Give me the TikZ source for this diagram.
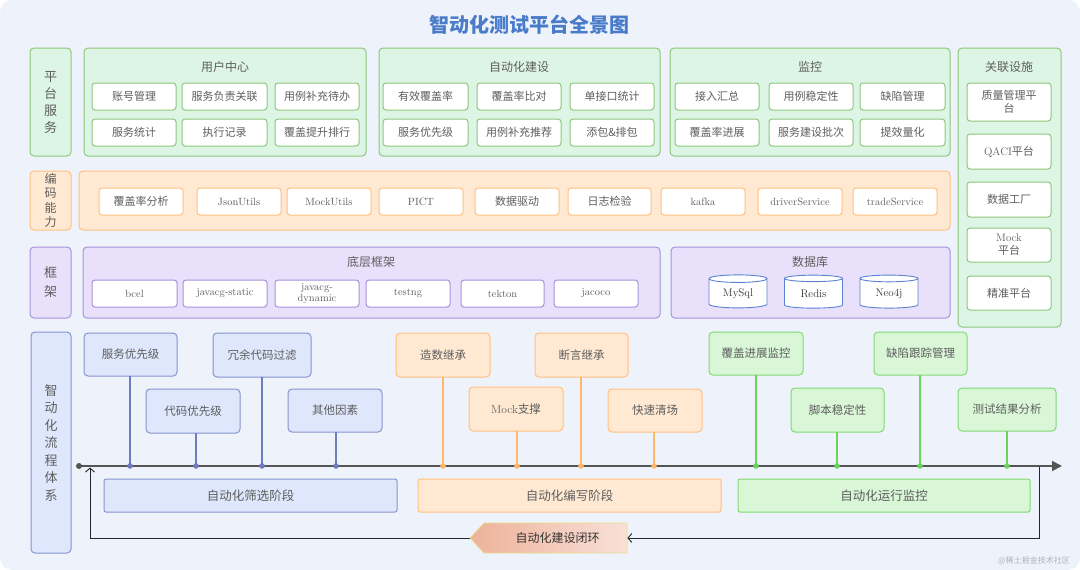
\documentclass[tikz,border=0pt]{standalone}
\usepackage{fontspec}
\newfontfamily\cjk{Noto Sans CJK SC}
\usetikzlibrary{arrows.meta,shapes.geometric,shapes.symbols}
\definecolor{bgc}{HTML}{EEF3FB}
\definecolor{txt}{HTML}{5E5E5E}
\definecolor{ttl}{HTML}{4A7BC9}
\definecolor{grnF}{HTML}{DDF5E4}
\definecolor{grnD}{HTML}{8CC77A}
\definecolor{orgF}{HTML}{FFE9D2}
\definecolor{orgD}{HTML}{FFC080}
\definecolor{purF}{HTML}{E9E1FB}
\definecolor{purD}{HTML}{A793DC}
\definecolor{bluF}{HTML}{DEE7FB}
\definecolor{bluD}{HTML}{8694CF}
\definecolor{bluL}{HTML}{6F7DC0}
\definecolor{bgrF}{HTML}{D9F6D7}
\definecolor{bgrD}{HTML}{80DA72}
\definecolor{bgrL}{HTML}{6BD45C}
\definecolor{borL}{HTML}{FFB865}
\definecolor{cylD}{HTML}{5B82D2}
\definecolor{tline}{HTML}{555555}
\definecolor{closL}{HTML}{EDB29A}
\definecolor{closR}{HTML}{F9E0D8}
\definecolor{closD}{HTML}{E6DE8C}
\newcommand{\mybox}[7]{\node[#2, minimum width={(#5)-(#3)}, minimum height={(#6)-(#4)}] (#1) at ({((#3)+(#5))/2},{((#4)+(#6))/2}) {#7};}
\tikzset{
  base/.style={inner sep=0pt, outer sep=0pt, rounded corners=4pt, line width=1pt, text=txt, align=center, font=\cjk\fontsize{11}{13}\selectfont},
  lblG/.style={base, draw=grnD, fill=grnF, font=\cjk\fontsize{13}{17}\selectfont},
  lblO/.style={base, draw=orgD, fill=orgF, font=\cjk\fontsize{12}{14.5}\selectfont},
  lblP/.style={base, draw=purD, fill=purF, font=\cjk\fontsize{13}{19}\selectfont},
  lblB/.style={base, draw=bluD, fill=bluF, font=\cjk\fontsize{13}{17.5}\selectfont},
  grpG/.style={base, draw=grnD, fill=grnF},
  grpO/.style={base, draw=orgD, fill=orgF},
  grpP/.style={base, draw=purD, fill=purF},
  gtitle/.style={inner sep=0pt, text=txt, font=\cjk\fontsize{12}{14}\selectfont},
  inG/.style={base, draw=grnD, fill=white, rounded corners=3pt},
  inO/.style={base, draw=orgD, fill=white, rounded corners=3pt},
  inP/.style={base, draw=purD, fill=white, rounded corners=3pt},
  lat/.style={font=\rmfamily\fontsize{10.5}{11.5}\selectfont},
  db/.style={cylinder, shape border rotate=90, aspect=0.25, draw=cylD, fill=white, line width=0.9pt, inner sep=0pt, minimum width=58pt, minimum height=33pt, text=black!80, font=\rmfamily\fontsize{11}{13}\selectfont},
  fB/.style={base, draw=bluD, fill=bluF, font=\cjk\fontsize{11.5}{13}\selectfont},
  fO/.style={base, draw=orgD, fill=orgF, font=\cjk\fontsize{11.5}{13}\selectfont},
  fG/.style={base, draw=bgrD, fill=bgrF, font=\cjk\fontsize{11.5}{13}\selectfont},
  phB/.style={fB, rounded corners=2pt, font=\cjk\fontsize{12.5}{14}\selectfont},
  phO/.style={fO, rounded corners=2pt, font=\cjk\fontsize{12.5}{14}\selectfont},
  phG/.style={fG, rounded corners=2pt, font=\cjk\fontsize{12.5}{14}\selectfont},
  stemB/.style={draw=bluL, line width=1.5pt},
  stemO/.style={draw=borL, line width=1.5pt},
  stemG/.style={draw=bgrL, line width=1.5pt},
  timeline/.style={draw=tline, line width=1.8pt, -{Triangle[length=10pt,width=10pt]}},
  loopline/.style={draw=black!85, line width=0.9pt, -{Straight Barb[length=4pt,width=9pt]}},
  closing/.style={signal, signal to=west, signal pointer angle=94, minimum width=157pt, minimum height=30pt, inner sep=0pt, left color=closL, right color=closR, draw=closD, line width=0.7pt, text=black!80, font=\cjk\fontsize{12}{14}\selectfont},
}
\begin{document}
\begin{tikzpicture}[x=1pt,y=-1pt]
\useasboundingbox (0,0) rectangle (1080,570);
\fill[bgc, rounded corners=12pt] (0,0) rectangle (1080,570);
\node[inner sep=0pt, text=ttl, font=\cjk\bfseries\fontsize{20}{24}\selectfont] (title) at (529,25) {智动化测试平台全景图};

% ---------- Row 1: platform services
\mybox{plat}{lblG}{30}{48}{71}{156}{平\\台\\服\\务}
\mybox{uc}{grpG}{84}{48}{366}{156}{}
\node[gtitle] (ucT) at (225,67) {用户中心};
\mybox{uc1}{inG}{92}{83}{176}{110}{账号管理}
\mybox{uc2}{inG}{182}{83}{267}{110}{服务负责关联}
\mybox{uc3}{inG}{275}{83}{359}{110}{用例补充待办}
\mybox{uc4}{inG}{92}{119}{176}{146}{服务统计}
\mybox{uc5}{inG}{182}{119}{267}{146}{执行记录}
\mybox{uc6}{inG}{275}{119}{359}{146}{覆盖提升排行}

\mybox{ab}{grpG}{379}{48}{660}{156}{}
\node[gtitle] (abT) at (519,67) {自动化建设};
\mybox{ab1}{inG}{383}{83}{468}{110}{有效覆盖率}
\mybox{ab2}{inG}{477}{83}{561}{110}{覆盖率比对}
\mybox{ab3}{inG}{570}{83}{654}{110}{单接口统计}
\mybox{ab4}{inG}{383}{119}{468}{146}{服务优先级}
\mybox{ab5}{inG}{477}{119}{561}{146}{用例补充推荐}
\mybox{ab6}{inG}{570}{119}{654}{146}{添包\&排包}

\mybox{mo}{grpG}{670}{48}{950}{156}{}
\node[gtitle] (moT) at (810,67) {监控};
\mybox{mo1}{inG}{675}{83}{759}{110}{接入汇总}
\mybox{mo2}{inG}{769}{83}{853}{110}{用例稳定性}
\mybox{mo3}{inG}{860}{83}{945}{110}{缺陷管理}
\mybox{mo4}{inG}{675}{119}{759}{146}{覆盖率进展}
\mybox{mo5}{inG}{769}{119}{853}{146}{服务建设批次}
\mybox{mo6}{inG}{860}{119}{945}{146}{提效量化}

\mybox{rel}{grpG}{958}{48}{1061}{327}{}
\node[gtitle] (relT) at (1009,67) {关联设施};
\mybox{rel1}{inG}{967}{83}{1051}{121}{质量管理平\\台}
\mybox{rel2}{inG}{967}{134}{1051}{169}{{\rmfamily QACI}平台}
\mybox{rel3}{inG}{967}{182}{1051}{217}{数据工厂}
\mybox{rel4}{inG}{967}{228}{1051}{262}{{\rmfamily Mock}\\平台}
\mybox{rel5}{inG}{967}{276}{1051}{310}{精准平台}

% ---------- Row 2: coding
\mybox{code}{lblO}{30}{171}{71}{230}{编\\码\\能\\力}
\mybox{cg}{grpO}{79}{171}{950}{230}{}
\mybox{cg1}{inO}{99}{188}{183}{215}{覆盖率分析}
\mybox{cg2}{inO,lat}{197}{188}{281}{215}{JsonUtils}
\mybox{cg3}{inO,lat}{287}{188}{371}{215}{MockUtils}
\mybox{cg4}{inO,lat}{379}{188}{463}{215}{PICT}
\mybox{cg5}{inO}{475}{188}{559}{215}{数据驱动}
\mybox{cg6}{inO}{568}{188}{651}{215}{日志检验}
\mybox{cg7}{inO,lat}{661}{188}{745}{215}{kafka}
\mybox{cg8}{inO,lat}{758}{188}{842}{215}{driverService}
\mybox{cg9}{inO,lat}{853}{188}{937}{215}{tradeService}

% ---------- Row 3: framework
\mybox{fw}{lblP}{30}{247}{71}{318}{框\\架}
\mybox{bf}{grpP}{83}{247}{660}{318}{}
\node[gtitle] (bfT) at (371,262) {底层框架};
\mybox{bf1}{inP,lat}{92}{280}{177}{307}{bcel}
\mybox{bf2}{inP,lat}{183}{280}{267}{307}{javacg-static}
\mybox{bf3}{inP,lat}{275}{280}{359}{307}{javacg-\\dynamic}
\mybox{bf4}{inP,lat}{366}{280}{450}{307}{testng}
\mybox{bf5}{inP,lat}{461}{280}{544}{307}{tekton}
\mybox{bf6}{inP,lat}{554}{280}{638}{307}{jacoco}
\mybox{dbg}{grpP}{671}{247}{950}{318}{}
\node[gtitle] (dbT) at (810,262) {数据库};
\node[db] (db1) at (738,293.5) {MySql};
\node[db] (db2) at (813.5,293.5) {Redis};
\node[db] (db3) at (889,293.5) {Neo4j};

% ---------- Bottom: process
\mybox{proc}{lblB}{31}{332}{71}{553}{智\\动\\化\\流\\程\\体\\系}
\coordinate (tl0) at (79,466);
\coordinate (tl1) at (1062,466);
\coordinate (lpA) at (1039,466);
\coordinate (lpD) at (90,467.5);

\node[closing] (clos) at (555.5,538) {\hspace*{4pt}自动化建设闭环};

\draw[loopline] (lpA) |- (clos.east);
\draw[loopline] (clos.west) -| (lpD);
\draw[timeline] (tl0) -- (tl1);
\fill[tline] (tl0) circle (3pt);

\mybox{s1}{fB}{84}{333}{177}{376}{服务优先级}
\mybox{s2}{fB}{146}{389}{240}{433}{代码优先级}
\mybox{s3}{fB}{213}{333}{311}{377}{冗余代码过滤}
\mybox{s4}{fB}{288}{389}{382}{432}{其他因素}
\mybox{ps}{phB}{104}{479}{397}{512}{自动化筛选阶段}

\mybox{w1}{fO}{396}{333}{490}{377}{造数继承}
\mybox{w2}{fO}{469}{387}{563}{431}{{\rmfamily Mock}支撑}
\mybox{w3}{fO}{535}{333}{628}{377}{断言继承}
\mybox{w4}{fO}{608}{389}{702}{432}{快速清场}
\mybox{pw}{phO}{418}{479}{721}{512}{自动化编写阶段}

\mybox{m1}{fG}{709}{332}{803}{375}{覆盖进展监控}
\mybox{m2}{fG}{791}{388}{884}{432}{脚本稳定性}
\mybox{m3}{fG}{874}{332}{967}{375}{缺陷跟踪管理}
\mybox{m4}{fG}{958}{388}{1056}{431}{测试结果分析}
\mybox{pm}{phG}{738}{479}{1030}{512}{自动化运行监控}

\foreach \n/\x in {s1/130,s2/196,s3/262,s4/336}{
  \draw[stemB] (\n.south -| \x,0) -- (\x,466);
  \fill[bluL] (\x,466) circle (2.8pt);
}
\foreach \n/\x in {w1/443,w2/517,w3/581,w4/654}{
  \draw[stemO] (\n.south -| \x,0) -- (\x,466);
  \fill[borL] (\x,466) circle (2.8pt);
}
\foreach \n/\x in {m1/756,m2/837,m3/920,m4/1007}{
  \draw[stemG] (\n.south -| \x,0) -- (\x,466);
  \fill[bgrL] (\x,466) circle (2.8pt);
}

\node[inner sep=0pt, text=black!30, font=\cjk\fontsize{8}{10}\selectfont] (wm) at (1034,561) {@稀土掘金技术社区};
\end{tikzpicture}
\end{document}
